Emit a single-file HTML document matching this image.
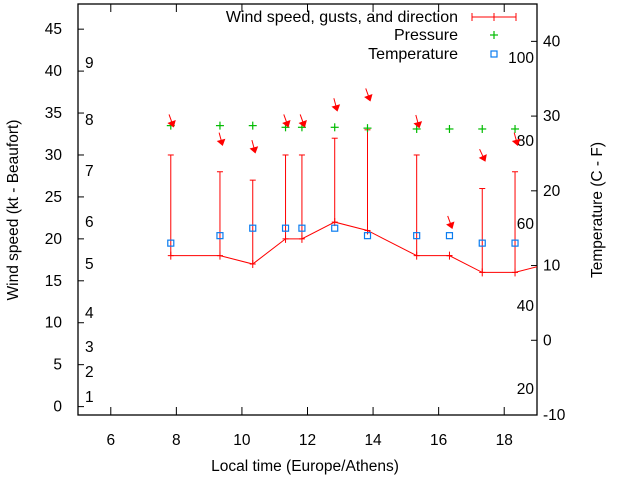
<!DOCTYPE html>
<html><head><meta charset="utf-8"><style>
body{margin:0;background:#fff;}
svg{display:block;font-family:"Liberation Sans",sans-serif;font-size:15.5px;}
</style></head><body>
<svg id="chart" width="640" height="480" viewBox="0 0 640 480" xmlns="http://www.w3.org/2000/svg">
<g id="axes"></g><g id="marks"></g><g id="legend"></g>
</svg>
<script>
const times=[7.83,9.33,10.33,11.33,11.83,12.83,13.83,15.33,16.33,17.33,18.33,19.33];
const windSpeed=[18,18,17,20,20,22,21,18,18,16,16,17];
const gusts=[30,28,27,30,30,32,33,30,18,26,28,null];
const pressure=[33.5,33.5,33.5,33.3,33.3,33.3,33.2,33.1,33.1,33.1,33.1,null];
const temps=[13,14,15,15,15,15,14,14,14,13,13,null];
const arrowY=[33.6,31.4,30.5,33.6,33.6,35.5,36.7,33.5,21.5,29.5,31.4,null];
const windDir=[340,345,345,340,340,345,340,345,340,335,345,null];
const xTicks=[6,8,10,12,14,16,18];
const yTicks=[0,5,10,15,20,25,30,35,40,45];
const tTicks=[-10,0,10,20,30,40];
const beaufort=[["1",397],["2",372],["3",347],["4",313],["5",264],["6",222],["7",171],["8",120],["9",63]];
const fahr=[["100",58],["80",141],["60",224],["40",306],["20",389]];
const L=78,R=537,T=4,B=415;
const sx=v=>L+(v-5)/(19-5)*(R-L);
const sy=v=>B-(v+1)/(48+1)*(B-T);
const st=v=>B-(v+10)/(45+10)*(B-T);
const NS="http://www.w3.org/2000/svg";
function mk(tag,attrs,parent,txt){const e=document.createElementNS(NS,tag);for(const k in attrs)e.setAttribute(k,attrs[k]);if(txt!==undefined)e.textContent=txt;parent.appendChild(e);return e;}
const ax=document.getElementById('axes'),mg=document.getElementById('marks'),lg=document.getElementById('legend');
let frame=mk('rect',{x:L,y:T,width:R-L,height:B-T,fill:'none',stroke:'#000','stroke-width':1.3},ax);

xTicks.forEach(v=>{const x=sx(v);
 mk('line',{x1:x,y1:B,x2:x,y2:B-8,stroke:'#000'},ax);mk('line',{x1:x,y1:T,x2:x,y2:T+8,stroke:'#000'},ax);
 const t=mk('text',{x:x,y:B+30,'text-anchor':'middle'},ax,String(v));
 });
yTicks.forEach(v=>{const y=sy(v);
 mk('line',{x1:L,y1:y,x2:L+6,y2:y,stroke:'#000'},ax);
 const t=mk('text',{x:62,y:y+5,'text-anchor':'end'},ax,String(v));
 });
tTicks.forEach(v=>{const y=st(v);
 mk('line',{x1:R,y1:y,x2:R-6,y2:y,stroke:'#000'},ax);
 const t=mk('text',{x:543,y:y+5,'text-anchor':'start'},ax,String(v));
 });
beaufort.forEach(b=>{const t=mk('text',{x:85,y:b[1]+5},ax,b[0]);
 });
fahr.forEach(b=>{const t=mk('text',{x:534,y:b[1]+5,'text-anchor':'end'},ax,b[0]);
 });
let t1=mk('text',{x:0,y:0,'text-anchor':'middle',transform:'translate(18,210) rotate(-90)'},ax,'Wind speed (kt - Beaufort)');

let t2=mk('text',{x:0,y:0,'text-anchor':'middle',transform:'translate(602,210) rotate(-90)'},ax,'Temperature (C - F)');

let t3=mk('text',{x:305,y:471,'text-anchor':'middle'},ax,'Local time (Europe/Athens)');

const defs=mk('defs',{},document.getElementById('chart'));
const cp=mk('clipPath',{id:'clip'},defs);mk('rect',{x:L,y:T,width:R-L,height:B-T},cp);
mg.setAttribute('clip-path','url(#clip)');
let pts=times.map((t,i)=>sx(t)+','+sy(windSpeed[i])).join(' ');
let wl=mk('polyline',{points:pts,fill:'none',stroke:'#f00','stroke-width':1},mg);

times.forEach((t,i)=>{
 const x=sx(t);
 if(gusts[i]!==null){const g=mk('g',{stroke:'#f00','stroke-width':1},mg);
  
  mk('line',{x1:x,y1:sy(windSpeed[i]),x2:x,y2:sy(gusts[i])},g);
  mk('line',{x1:x-3,y1:sy(gusts[i]),x2:x+3,y2:sy(gusts[i])},g);
  mk('line',{x1:x-3,y1:sy(windSpeed[i]),x2:x+3,y2:sy(windSpeed[i])},g);
  mk('line',{x1:x,y1:sy(windSpeed[i])-4,x2:x,y2:sy(windSpeed[i])+4},g);}
 if(pressure[i]!==null){const y=sy(pressure[i]);const g=mk('g',{stroke:'#0b0','stroke-width':1.2},mg);
  
  mk('line',{x1:x-4,y1:y,x2:x+4,y2:y},g);mk('line',{x1:x,y1:y-4,x2:x,y2:y+4},g);}
 if(temps[i]!==null){const y=st(temps[i]);const r=mk('rect',{x:x-3,y:y-3,width:6,height:6,fill:'none',stroke:'#0a7cf0','stroke-width':1.2},mg);
  }
 if(arrowY[i]!==null){const hx=x+2,hy=sy(arrowY[i]);const a=windDir[i]*Math.PI/180;
  const dx=-Math.sin(a),dy=Math.cos(a);const tx=hx-dx*11,ty=hy-dy*11;
  const g=mk('g',{fill:'#f00',stroke:'#f00','stroke-width':1},mg);
  
  mk('line',{x1:tx,y1:ty,x2:hx,y2:hy},g);
  const px=-dy,py=dx;
  mk('polygon',{points:`${hx+dx*2},${hy+dy*2} ${hx-dx*3+px*3.5},${hy-dy*3+py*3.5} ${hx-dx*3-px*3.5},${hy-dy*3-py*3.5}`},g);}
});
const legItems=[['Wind speed, gusts, and direction',17],['Pressure',35],['Temperature',54]];
legItems.forEach((l,i)=>{const t=mk('text',{x:458,y:l[1]+5,'text-anchor':'end','font-size':'16px'},lg,l[0]);
 });
let g1=mk('g',{stroke:'#f00'},lg);
mk('line',{x1:472,y1:17,x2:516,y2:17},g1);[472,494,516].forEach(x=>mk('line',{x1:x,y1:13,x2:x,y2:21},g1));
let g2=mk('g',{stroke:'#0b0','stroke-width':1.2},lg);
mk('line',{x1:490,y1:35,x2:498,y2:35},g2);mk('line',{x1:494,y1:31,x2:494,y2:39},g2);
let r2=mk('rect',{x:491,y:51,width:6,height:6,fill:'none',stroke:'#0a7cf0','stroke-width':1.2},lg);

</script>
</body></html>
